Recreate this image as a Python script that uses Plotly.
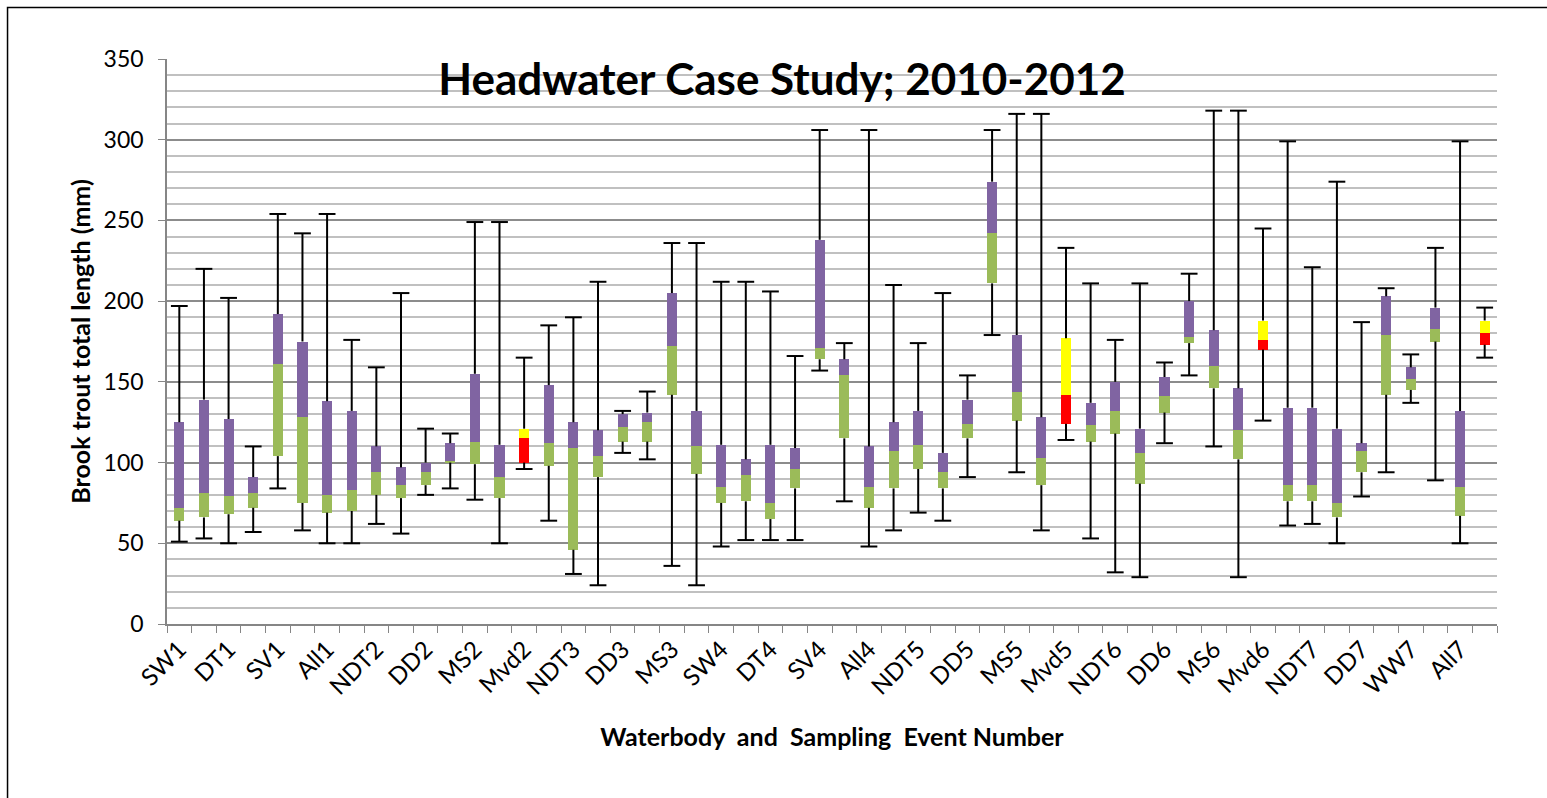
import plotly.graph_objects as go

# Waterbody / sampling-event categories (every other one is labelled on the axis)
categories = [
    "SW1", "WW1", "DT1", "DD1", "SV1", "MS1", "All1",
    "DT2", "NDT2", "SV2", "DD2", "SW2", "MS2", "WW2", "Mvd2", "All2",
    "NDT3", "SV3", "DD3", "DT3", "MS3", "All3",
    "SW4", "WW4", "DT4", "DD4", "SV4", "MS4", "All4",
    "DT5", "NDT5", "SV5", "DD5", "SW5", "MS5", "WW5", "Mvd5", "All5",
    "NDT6", "SV6", "DD6", "DT6", "MS6", "WW6", "Mvd6", "All6",
    "NDT7", "DT7", "DD7", "SV7", "WW7", "MS7", "All7", "Mvd7",
]

# Brook trout total length (mm): five-number summaries per category
length_min = [51, 53, 50, 57, 84, 58, 50, 50, 62, 56, 80, 84, 77, 50, 96, 64, 31, 24,
              106, 102, 36, 24, 48, 52, 52, 52, 157, 76, 48, 58, 69, 64, 91, 179, 94, 58,
              114, 53, 32, 29, 112, 154, 110, 29, 126, 61, 62, 50, 79, 94, 137, 89, 50, 165]
length_q1 = [64, 66, 68, 72, 104, 75, 69, 70, 80, 78, 86, 100, 99, 78, 100, 98, 46, 91,
             113, 113, 142, 93, 75, 76, 65, 84, 164, 115, 72, 84, 96, 84, 115, 211, 126, 86,
             124, 113, 118, 87, 131, 174, 146, 102, 170, 76, 76, 66, 94, 142, 145, 175, 67, 173]
length_median = [72, 81, 79, 81, 161, 128, 80, 83, 94, 86, 94, 101, 113, 91, 115, 112, 109, 104,
                 122, 125, 172, 110, 85, 92, 75, 96, 171, 154, 85, 107, 111, 94, 124, 242, 144, 103,
                 142, 123, 132, 106, 141, 178, 160, 120, 176, 86, 86, 75, 107, 179, 152, 183, 85, 180]
length_q3 = [125, 139, 127, 91, 192, 175, 138, 132, 110, 97, 100, 112, 155, 111, 121, 148, 125, 120,
             130, 131, 205, 132, 111, 102, 111, 109, 238, 164, 110, 125, 132, 106, 139, 274, 179, 128,
             177, 137, 150, 121, 153, 200, 182, 146, 188, 134, 134, 121, 112, 203, 159, 196, 132, 188]
length_max = [197, 220, 202, 110, 254, 242, 254, 176, 159, 205, 121, 118, 249, 249, 165, 185, 190, 212,
              132, 144, 236, 236, 212, 212, 206, 166, 306, 174, 306, 210, 174, 205, 154, 306, 316, 316,
              233, 211, 176, 211, 162, 217, 318, 318, 245, 299, 221, 274, 187, 208, 167, 233, 299, 196]

tick_labels = [c if i % 2 == 0 else "" for i, c in enumerate(categories)]

LOWER_COLOR = "#9BBB59"
UPPER_COLOR = "#8064A2"
MVD_LOWER = "#FF0000"
MVD_UPPER = "#FFFF00"

is_mvd = [c.startswith("Mvd") for c in categories]
lower_colors = [MVD_LOWER if m else LOWER_COLOR for m in is_mvd]
upper_colors = [MVD_UPPER if m else UPPER_COLOR for m in is_mvd]

lower_seg = [m - q for m, q in zip(length_median, length_q1)]
upper_seg = [q - m for q, m in zip(length_q3, length_median)]

BOX_W = 0.41
FONT = "Lato, Carlito, Calibri, sans-serif"

fig = go.Figure()

# invisible base up to the first quartile
fig.add_trace(go.Bar(x=categories, y=length_q1, width=BOX_W,
                     marker=dict(color="rgba(0,0,0,0)", line=dict(width=0)),
                     hoverinfo="skip", showlegend=False))
# first quartile -> median
fig.add_trace(go.Bar(x=categories, y=lower_seg, width=BOX_W,
                     marker=dict(color=lower_colors, line=dict(width=0)),
                     showlegend=False))
# median -> third quartile
fig.add_trace(go.Bar(x=categories, y=upper_seg, width=BOX_W,
                     marker=dict(color=upper_colors, line=dict(width=0)),
                     showlegend=False))

# whisker stems
wx, wy = [], []
for c, lo, q1, q3, hi in zip(categories, length_min, length_q1, length_q3, length_max):
    wx += [c, c, None, c, c, None]
    wy += [q3, hi, None, lo, q1, None]
fig.add_trace(go.Scatter(x=wx, y=wy, mode="lines",
                         line=dict(color="black", width=2),
                         hoverinfo="skip", showlegend=False))
# whisker caps
fig.add_trace(go.Scatter(x=categories + categories, y=length_max + length_min, mode="markers",
                         marker=dict(symbol="line-ew", size=12,
                                     line=dict(color="black", width=2)),
                         hoverinfo="skip", showlegend=False))

# chart-area border (left and top edges; the others run past the page)
fig.add_shape(type="path", xref="paper", yref="paper",
              path="M -0.1199,-0.5 L -0.1199,1.0912 L 1.2,1.0912",
              line=dict(color="black", width=1.5), layer="below")

fig.update_layout(
    width=1547, height=798,
    margin=dict(l=167, r=50, t=59, b=174),
    paper_bgcolor="white", plot_bgcolor="white",
    barmode="stack",
    font=dict(family=FONT, color="black"),
    title=dict(text="<b>Headwater Case Study; 2010-2012</b>",
               x=782 / 1547, y=1 - 80 / 798, xanchor="center", yanchor="middle",
               font=dict(size=44, family=FONT, color="black")),
    xaxis=dict(
        type="category", range=[-0.5, len(categories) - 0.5],
        tickmode="array", tickvals=categories, ticktext=tick_labels,
        tickson="boundaries", ticks="outside", ticklen=7, tickcolor="#868686",
        tickangle=-45, tickfont=dict(size=24, family=FONT, color="black"),
        showline=True, linecolor="#868686", linewidth=1.5, showgrid=False,
        title=dict(text="<b>Waterbody\u00a0 and\u00a0 Sampling\u00a0 Event Number</b>",
                   font=dict(size=25, family=FONT, color="black"), standoff=30),
        automargin=False,
    ),
    yaxis=dict(
        range=[0, 350], dtick=50, tick0=0,
        ticks="outside", ticklen=7, tickcolor="#868686", ticklabelstandoff=10,
        tickfont=dict(size=23, family=FONT, color="black"),
        showline=True, linecolor="#868686", linewidth=1.5,
        showgrid=True, gridcolor="#8C8C8C", gridwidth=1.5,
        minor=dict(dtick=10, tick0=0, showgrid=True, gridcolor="#C0C0C0", gridwidth=1.5),
        zeroline=False,
        title=dict(text="<b>Brook trout total length (mm)</b>",
                   font=dict(size=25, family=FONT, color="black"), standoff=6),
        automargin=False,
    ),
)

fig.write_html("out.html")
